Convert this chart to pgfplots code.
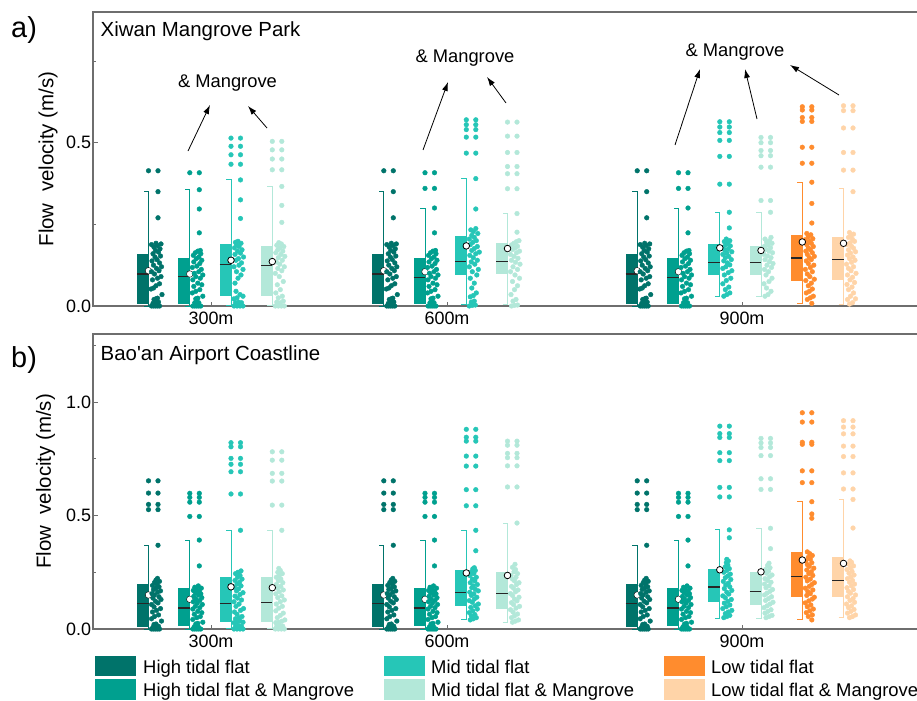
\documentclass[border=0pt]{standalone}
\usepackage{pgfplots}
\usepackage{pgfplotstable}
\pgfplotsset{compat=1.18}
\usetikzlibrary{arrows.meta}
\usepackage{fontspec}
\setmainfont{Liberation Sans}

\definecolor{cH}{HTML}{00736A}
\definecolor{cHM}{HTML}{00A08F}
\definecolor{cM}{HTML}{26C6B7}
\definecolor{cMM}{HTML}{B3E8D9}
\definecolor{cL}{HTML}{FF8C2E}
\definecolor{cLM}{HTML}{FFD4A8}
\definecolor{axgray}{HTML}{6E6E6E}

% ---------- panel a data (dx = offset from whisker, y = velocity) ----------
\pgfplotstableread{
dx y
0 0.414
9.5 0.414
9.5 0.350
9.5 0.270
3 0.000
5 0.000
7 0.000
9 0.000
11 0.000
4.5 0.008
6.5 0.010
8.5 0.008
10 0.012
5.5 0.020
7.5 0.022
9 0.024
13.5 0.035
2.5 0.052
5 0.055
7.5 0.062
11 0.068
4 0.080
9 0.085
12.5 0.090
6 0.098
3 0.105
10.5 0.108
8 0.115
13 0.120
5 0.125
11 0.132
3.5 0.138
8.5 0.142
6.5 0.150
12 0.153
4.5 0.160
10 0.165
7 0.170
11.5 0.175
5.5 0.180
9 0.185
3 0.188
7.5 0.192
12.5 0.190
}\aHi
\pgfplotstableread{
dx y
0 0.408
9.5 0.408
9.5 0.356
9.5 0.297
9.5 0.224
3 0
5 0
7 0
9 0
11 0
5 0.01
7 0.012
9 0.01
6 0.022
8 0.024
13 0.03
2.5 0.04
6 0.045
10 0.05
4 0.06
12 0.065
8 0.07
3 0.08
10.5 0.085
6 0.09
13 0.095
4.5 0.1
9 0.105
11.5 0.112
2.5 0.118
7 0.122
10 0.13
4 0.135
12 0.14
6.5 0.145
9 0.15
3.5 0.155
11 0.16
5.5 0.163
8 0.168
10.5 0.17
}\aHiMa
\pgfplotstableread{
dx y
0 0.408
9.5 0.408
0 0.360
9.5 0.360
9.5 0.300
9.5 0.224
3 0
5 0
7 0
9 0
11 0
5 0.01
7 0.012
9 0.01
6 0.022
8 0.024
13 0.03
2.5 0.04
6 0.045
10 0.05
4 0.06
12 0.065
8 0.07
3 0.08
10.5 0.085
6 0.09
13 0.095
4.5 0.1
9 0.105
11.5 0.112
2.5 0.118
7 0.122
10 0.13
4 0.135
12 0.14
6.5 0.145
9 0.15
3.5 0.155
11 0.16
5.5 0.163
8 0.168
10.5 0.17
}\aHiMb
\pgfplotstableread{
dx y
0 0.514
9.5 0.514
0 0.489
9.5 0.489
0 0.463
9.5 0.463
0 0.434
9.5 0.434
9.5 0.386
9.5 0.325
9.5 0.268
3 0.000
6 0.000
9 0.000
12 0.000
4.5 0.01
7.5 0.012
10.5 0.01
3 0.022
6 0.025
12 0.03
9 0.035
5 0.045
4 0.07
7 0.085
10 0.095
5.5 0.105
12 0.112
3 0.12
8 0.125
10.5 0.132
5 0.14
7.5 0.145
12.5 0.15
4 0.158
9.5 0.162
6.5 0.168
11 0.172
3.5 0.178
8 0.182
5.5 0.188
10 0.192
7 0.198
4.5 0.195
}\aMida
\pgfplotstableread{
dx y
0 0.504
9.5 0.504
0 0.478
9.5 0.478
0 0.450
9.5 0.450
0 0.417
9.5 0.417
9.5 0.366
9.5 0.308
9.5 0.256
3 0
6 0
9 0
12 0
4.5 0.012
8 0.01
11 0.015
6 0.025
10 0.03
3.5 0.04
8 0.05
5 0.065
11 0.075
7 0.09
3 0.1
9.5 0.108
5.5 0.115
12 0.12
7.5 0.128
4 0.135
10 0.14
6 0.148
12.5 0.152
8.5 0.158
3.5 0.163
10.5 0.168
5.5 0.172
7.5 0.178
11.5 0.182
4.5 0.186
9 0.19
6.5 0.194
}\aMidMa
\pgfplotstableread{
dx y
0 0.570
9.5 0.570
0 0.555
9.5 0.555
0 0.540
9.5 0.540
0 0.517
9.5 0.517
0 0.468
9.5 0.468
9.5 0.390
9.5 0.297
3 0
6 0.002
9 0.003
5 0.012
8 0.015
4 0.028
7 0.032
10 0.04
5.5 0.055
8 0.07
4 0.085
10.5 0.095
6 0.105
12 0.112
3 0.12
8.5 0.128
5 0.135
11 0.14
7 0.148
3.5 0.155
9.5 0.16
13 0.165
5.5 0.17
8 0.176
11 0.182
4 0.188
6.5 0.195
10 0.2
3 0.205
8 0.21
5.5 0.216
11.5 0.222
7 0.228
4.5 0.233
9.5 0.237
}\aMidb
\pgfplotstableread{
dx y
0 0.563
9.5 0.563
0 0.520
9.5 0.520
0 0.470
9.5 0.470
0 0.427
9.5 0.427
0 0.405
9.5 0.405
0 0.359
9.5 0.359
9.5 0.283
9.5 0.226
4 0
7 0.002
10 0.003
5.5 0.015
8.5 0.02
3.5 0.035
7 0.05
10 0.062
5 0.075
12 0.085
7.5 0.095
3 0.105
10 0.112
5.5 0.12
12.5 0.128
8 0.134
4 0.14
10.5 0.146
6.5 0.152
3 0.158
9 0.163
12 0.168
5 0.173
7.5 0.178
10 0.183
4 0.187
6.5 0.192
9 0.197
11.5 0.2
}\aMidMb
\pgfplotstableread{
dx y
0 0.564
9.5 0.564
0 0.548
9.5 0.548
0 0.531
9.5 0.531
0 0.507
9.5 0.507
0 0.458
9.5 0.458
0 0.373
9.5 0.373
9.5 0.287
9.5 0.239
4 0.03
7 0.035
10 0.04
5.5 0.05
9 0.058
3 0.068
6.5 0.078
11 0.085
4.5 0.095
8.5 0.102
12 0.108
3 0.115
6 0.12
10 0.126
7.5 0.132
4 0.138
11.5 0.142
5.5 0.148
9 0.152
3 0.158
7 0.162
12 0.166
5 0.171
8.5 0.175
3.5 0.18
10.5 0.184
6 0.188
8 0.193
4.5 0.197
10 0.2
6.5 0.205
}\aMidc
\pgfplotstableread{
dx y
0 0.516
9.5 0.516
0 0.500
9.5 0.500
0 0.476
9.5 0.476
0 0.460
9.5 0.460
0 0.425
9.5 0.425
0 0.323
9.5 0.323
9.5 0.287
4 0.03
7 0.035
10 0.045
5.5 0.055
3 0.068
8 0.075
11 0.085
5 0.095
7.5 0.105
3.5 0.112
10.5 0.118
6 0.125
12 0.13
8.5 0.136
4 0.142
10 0.148
6.5 0.153
3 0.158
11.5 0.163
8 0.168
5 0.173
9.5 0.178
3.5 0.183
7 0.187
11 0.192
5.5 0.196
8.5 0.2
4 0.205
10 0.21
}\aMidMc
\pgfplotstableread{
dx y
0 0.610
9.5 0.610
0 0.600
9.5 0.600
0 0.577
9.5 0.577
0 0.565
9.5 0.565
0 0.486
9.5 0.486
0 0.437
9.5 0.437
9.5 0.379
9.5 0.314
9.5 0.254
9.5 0.008
5 0.02
8 0.025
11 0.03
4 0.04
7 0.045
10 0.052
6 0.062
9 0.07
3.5 0.078
12 0.082
7.5 0.09
5 0.098
10 0.105
3 0.112
8 0.118
11.5 0.125
6 0.13
4 0.138
9 0.142
7 0.148
12 0.152
5 0.158
10 0.163
3.5 0.168
8 0.172
6 0.178
11 0.182
4.5 0.188
9 0.192
7 0.198
3 0.203
10.5 0.206
6 0.212
8.5 0.218
4.5 0.222
}\aLowc
\pgfplotstableread{
dx y
0 0.613
9.5 0.613
0 0.598
9.5 0.598
0 0.545
9.5 0.545
0 0.470
9.5 0.470
0 0.416
9.5 0.416
9.5 0.350
6 0.006
9 0.01
4 0.02
12 0.022
7 0.03
10 0.04
5 0.05
8.5 0.058
3.5 0.066
11 0.072
6.5 0.08
9 0.088
4 0.095
12.5 0.1
7.5 0.108
5 0.115
10 0.12
3 0.128
8 0.134
11.5 0.14
6 0.145
9.5 0.15
4 0.156
7 0.162
12 0.166
5 0.172
10 0.177
8 0.183
3.5 0.188
6.5 0.193
11 0.198
9 0.204
5 0.21
7.5 0.215
10 0.22
6 0.225
}\aLowMc

% ---------- panel b data ----------
\pgfplotstableread{
dx y
0 0.653
9.5 0.653
0 0.599
9.5 0.599
0 0.549
9.5 0.549
0 0.526
9.5 0.526
9.5 0.369
3 0
5 0
7 0
9 0
11 0
4.5 0.008
6.5 0.01
8.5 0.01
10 0.012
5.5 0.02
7.5 0.022
13 0.035
3 0.045
6 0.055
10 0.062
4 0.075
8 0.082
12 0.09
5.5 0.098
3 0.108
9.5 0.115
7 0.122
12.5 0.13
4.5 0.136
10.5 0.142
6 0.15
3.5 0.156
9 0.162
12 0.168
5 0.174
7.5 0.18
10.5 0.186
4 0.192
8.5 0.198
6 0.205
11 0.21
7.5 0.216
9 0.223
}\bHi
\pgfplotstableread{
dx y
0 0.598
9.5 0.598
0 0.580
9.5 0.580
0 0.559
9.5 0.559
0 0.496
9.5 0.496
9.5 0.392
9.5 0.278
3 0
5 0
7 0
9 0
11 0
4.5 0.01
6.5 0.012
8.5 0.01
6 0.022
8 0.025
13 0.03
3 0.042
7 0.05
10.5 0.055
4.5 0.065
12 0.072
8 0.078
3 0.088
10 0.094
5.5 0.1
12.5 0.108
7.5 0.114
3.5 0.12
10 0.126
6 0.132
12 0.138
4 0.144
8.5 0.15
11 0.155
5.5 0.16
9.5 0.166
3.5 0.17
7 0.175
11.5 0.18
5 0.184
8.5 0.19
}\bHiM
\pgfplotstableread{
dx y
0 0.821
9.5 0.821
0 0.803
9.5 0.803
0 0.752
9.5 0.752
0 0.726
9.5 0.726
0 0.693
9.5 0.693
0 0.595
9.5 0.595
9.5 0.435
3 0
6 0
9 0
12 0
4.5 0.012
7.5 0.015
10.5 0.012
3 0.028
6 0.032
9 0.035
12 0.03
4.5 0.045
8 0.05
11 0.055
6 0.065
3.5 0.075
9.5 0.082
12.5 0.09
5 0.1
8 0.11
3 0.12
10.5 0.128
6.5 0.136
4 0.145
9 0.152
12 0.16
5.5 0.168
7.5 0.176
3.5 0.184
10 0.19
6 0.198
8.5 0.206
4 0.214
11 0.22
6.5 0.228
9 0.236
4.5 0.244
7 0.25
10 0.256
}\bMida
\pgfplotstableread{
dx y
0 0.781
9.5 0.781
0 0.744
9.5 0.744
0 0.686
9.5 0.686
0 0.652
9.5 0.652
0 0.546
9.5 0.546
9.5 0.435
3 0
6 0
9 0
12 0
4.5 0.012
7.5 0.014
10.5 0.012
3.5 0.028
6.5 0.03
9.5 0.034
12.5 0.04
5 0.05
8 0.06
11 0.07
3.5 0.08
6.5 0.092
10 0.1
4 0.11
8 0.12
12 0.128
5.5 0.138
9.5 0.146
3.5 0.155
7 0.164
11 0.172
5 0.18
8.5 0.188
4 0.196
10.5 0.204
6 0.212
8.5 0.22
4 0.228
7 0.236
10 0.244
5.5 0.25
8 0.258
6.5 0.267
}\bMidMa
\pgfplotstableread{
dx y
0 0.880
9.5 0.880
0 0.845
9.5 0.845
0 0.828
9.5 0.828
0 0.762
9.5 0.762
0 0.718
9.5 0.718
0 0.614
9.5 0.614
0 0.543
9.5 0.543
9.5 0.435
9.5 0.345
4 0.04
7 0.045
10 0.05
5 0.058
8.5 0.064
3 0.072
6.5 0.08
11 0.088
4.5 0.095
9 0.102
12 0.11
6 0.118
3 0.125
8 0.132
10.5 0.14
5 0.148
7.5 0.155
3.5 0.162
12 0.168
9 0.175
5.5 0.182
7 0.19
11 0.196
4 0.204
8.5 0.212
6 0.22
10 0.228
3.5 0.236
7.5 0.244
5 0.252
9 0.258
6.5 0.265
8 0.27
}\bMidb
\pgfplotstableread{
dx y
0 0.828
9.5 0.828
0 0.810
9.5 0.810
0 0.774
9.5 0.774
0 0.755
9.5 0.755
0 0.719
9.5 0.719
0 0.626
9.5 0.626
9.5 0.467
5 0.03
8 0.035
11 0.04
4 0.05
7 0.058
10 0.066
5.5 0.075
3 0.085
8.5 0.092
12 0.1
6 0.108
4 0.116
9.5 0.124
7 0.132
11.5 0.14
5 0.148
3 0.156
8 0.164
10.5 0.172
6 0.18
4 0.188
9 0.196
11.5 0.204
7 0.212
5 0.22
8.5 0.228
3.5 0.236
10 0.244
6.5 0.252
8 0.262
5 0.272
7.5 0.285
}\bMidMb
\pgfplotstableread{
dx y
0 0.894
9.5 0.894
0 0.861
9.5 0.861
0 0.844
9.5 0.844
0 0.777
9.5 0.777
0 0.742
9.5 0.742
0 0.624
9.5 0.624
0 0.582
9.5 0.582
9.5 0.437
9.5 0.402
4 0.05
7 0.055
10 0.06
5.5 0.068
8.5 0.075
12 0.082
3 0.09
6.5 0.098
10 0.106
4.5 0.114
8 0.122
11.5 0.13
5.5 0.138
3 0.146
9 0.154
7 0.162
12 0.17
4.5 0.178
10 0.186
6 0.194
8.5 0.202
3.5 0.21
11 0.218
5.5 0.226
8 0.234
10.5 0.242
4 0.25
7 0.258
9.5 0.266
5.5 0.274
8 0.282
6.5 0.292
8.5 0.3
7 0.307
}\bMidc
\pgfplotstableread{
dx y
0 0.840
9.5 0.840
0 0.820
9.5 0.820
0 0.800
9.5 0.800
0 0.764
9.5 0.764
0 0.662
9.5 0.662
0 0.615
9.5 0.615
9.5 0.444
9.5 0.354
5 0.05
8 0.055
11 0.06
4 0.07
7 0.078
10 0.085
3 0.094
6 0.102
9 0.11
12 0.118
4.5 0.126
7.5 0.134
10.5 0.142
3.5 0.15
6 0.158
9 0.166
11.5 0.174
5 0.182
8 0.19
3.5 0.198
10 0.206
6.5 0.214
4 0.222
8.5 0.23
11 0.238
5.5 0.246
7.5 0.254
4.5 0.262
9 0.27
6.5 0.28
8 0.29
}\bMidMc
\pgfplotstableread{
dx y
0 0.953
9.5 0.953
0 0.912
9.5 0.912
0 0.823
9.5 0.823
0 0.814
9.5 0.814
0 0.697
9.5 0.697
0 0.645
9.5 0.645
9.5 0.561
9.5 0.507
9.5 0.488
9.5 0.04
6 0.055
10 0.062
4 0.072
7.5 0.08
11 0.088
5 0.098
8.5 0.106
3 0.115
6.5 0.124
10 0.132
12 0.14
4.5 0.148
8 0.156
5.5 0.165
10.5 0.172
3 0.18
7 0.188
9.5 0.196
12 0.204
5 0.212
8 0.22
3.5 0.228
10.5 0.236
6.5 0.244
9 0.252
4.5 0.26
11.5 0.268
7 0.276
5 0.284
9.5 0.292
3.5 0.3
8 0.308
6 0.316
10 0.324
7.5 0.332
5 0.34
}\bLowc
\pgfplotstableread{
dx y
0 0.918
9.5 0.918
0 0.890
9.5 0.890
0 0.860
9.5 0.860
0 0.806
9.5 0.806
0 0.760
9.5 0.760
0 0.688
9.5 0.688
0 0.617
9.5 0.617
9.5 0.571
9.5 0.445
6 0.05
9 0.055
12 0.062
4 0.07
7.5 0.078
10.5 0.086
5 0.094
8 0.102
3 0.11
11 0.118
6.5 0.126
9.5 0.134
4 0.142
12 0.15
7 0.158
5 0.166
10 0.174
3.5 0.182
8 0.19
11 0.198
6 0.206
9 0.214
4 0.222
7.5 0.23
10.5 0.238
5.5 0.246
8.5 0.254
3.5 0.262
7 0.27
10 0.278
5 0.286
8 0.294
6.5 0.3
}\bLowMc

% #1 left, #2 cap start, #3 right (whisker), #4 q1, #5 median, #6 q3, #7 whisker low, #8 whisker high, #9 colour
\newcommand{\halfbox}[9]{%
  \addplot[#9, line width=1bp, forget plot] coordinates {(#2,#7) (#3,#7) (#3,#8) (#2,#8)};
  \addplot[draw=none, fill=#9, forget plot] coordinates {(#1,#4) (#3,#4) (#3,#6) (#1,#6)};
  \addplot[black!85, line width=1.2bp, forget plot] coordinates {(#1,#5) (#3,#5)};
}
\newcommand{\meanpt}[2]{%
  \addplot[only marks, mark=*, mark size=3.3pt, mark options={fill=white, draw=black, line width=0.8bp}, forget plot] coordinates {(#1,#2)};}
\newcommand{\meanhole}[2]{%
  \addplot[only marks, mark=*, mark size=3.3pt, mark options={fill=white, draw=none}, forget plot] coordinates {(#1,#2)};}
\newcommand{\pts}[3]{%
  \addplot[only marks, mark=*, mark size=2.35pt, color=#2, mark options={draw=none, fill=#2}, forget plot] table[x expr=\thisrow{dx}+#1, y=y] {#3};}

\pgfplotsset{
  panel/.style={
    scale only axis, anchor=south west,
    width=826bp, xmin=93, xmax=919,
    ymin=0,
    axis line style={draw=axgray, line width=1.3bp},
    tick style={draw=axgray, line width=1bp},
    tick align=inside, major tick length=4.5bp, minor tick length=2.5bp,
    xtick pos=left, ytick pos=left,
    xtick={211,447,742}, xticklabels={300m,600m,900m},
    xticklabel style={yshift=-2.5bp},
    yticklabel style={xshift=1.5bp},
    tick label style={font=\fontsize{18}{21}\selectfont},
    /pgf/number format/fixed, /pgf/number format/fixed zerofill,
    /pgf/number format/precision=1,
    /pgf/number format/assume math mode=true,
    clip=false,
  }
}

\begin{document}
\begin{tikzpicture}
\useasboundingbox (0,0) rectangle (917bp,-701bp);

% ================= panel a =================
\begin{axis}[panel, at={(93bp,-306bp)}, height=294bp, ymax=0.9,
  ytick={0,0.5}, minor ytick={0.25,0.75}]
% 300m
\halfbox{137}{143.5}{148.5}{0.006}{0.098}{0.159}{0}{0.352}{cH}
\meanhole{148.5}{0.108}
\pts{148.5}{cH}{\aHi}
\halfbox{178.3}{184.8}{189.8}{0.006}{0.090}{0.148}{0}{0.356}{cHM}
\meanhole{189.8}{0.098}
\pts{189.8}{cHM}{\aHiMa}
\halfbox{219.5}{226}{231}{0.030}{0.126}{0.189}{0.003}{0.386}{cM}
\pts{231}{cM}{\aMida}
\meanpt{231}{0.140}
\halfbox{260.8}{267.3}{272.3}{0.030}{0.124}{0.184}{0.003}{0.366}{cMM}
\pts{272.3}{cMM}{\aMidMa}
\meanpt{272.3}{0.136}
% 600m
\halfbox{372.3}{378.8}{383.8}{0.006}{0.098}{0.159}{0}{0.352}{cH}
\meanhole{383.8}{0.108}
\pts{383.8}{cH}{\aHi}
\halfbox{413.5}{420}{425}{0.006}{0.088}{0.148}{0.008}{0.300}{cHM}
\meanhole{425}{0.105}
\pts{425}{cHM}{\aHiMb}
\halfbox{454.8}{461.3}{466.3}{0.095}{0.137}{0.214}{0.006}{0.390}{cM}
\pts{466.3}{cM}{\aMidb}
\meanpt{466.3}{0.184}
\halfbox{496}{502.5}{507.5}{0.098}{0.137}{0.194}{0.006}{0.283}{cMM}
\pts{507.5}{cMM}{\aMidMb}
\meanpt{507.5}{0.176}
% 900m
\halfbox{625.7}{632.2}{637.2}{0.006}{0.098}{0.159}{0}{0.352}{cH}
\meanhole{637.2}{0.108}
\pts{637.2}{cH}{\aHi}
\halfbox{667}{673.5}{678.5}{0.006}{0.088}{0.148}{0.008}{0.300}{cHM}
\meanhole{678.5}{0.105}
\pts{678.5}{cHM}{\aHiMb}
\halfbox{708.3}{714.8}{719.8}{0.094}{0.134}{0.190}{0.030}{0.287}{cM}
\pts{719.8}{cM}{\aMidc}
\meanpt{719.8}{0.178}
\halfbox{749.5}{756}{761}{0.094}{0.134}{0.184}{0.030}{0.287}{cMM}
\pts{761}{cMM}{\aMidMc}
\meanpt{761}{0.170}
\halfbox{790.8}{797.3}{802.3}{0.076}{0.147}{0.216}{0.008}{0.379}{cL}
\pts{802.3}{cL}{\aLowc}
\meanpt{802.3}{0.196}
\halfbox{832}{838.5}{843.5}{0.081}{0.142}{0.212}{0.006}{0.359}{cLM}
\pts{843.5}{cLM}{\aLowMc}
\meanpt{843.5}{0.192}
\end{axis}

% ================= panel b =================
\begin{axis}[panel, at={(93bp,-629bp)}, height=295bp, ymax=1.3,
  ytick={0,0.5,1.0}, minor ytick={0.25,0.75,1.25}]
% 300m
\halfbox{137}{143.5}{148.5}{0.010}{0.113}{0.197}{0}{0.369}{cH}
\meanhole{148.5}{0.150}
\pts{148.5}{cH}{\bHi}
\halfbox{178.3}{184.8}{189.8}{0.012}{0.093}{0.179}{0}{0.392}{cHM}
\meanhole{189.8}{0.131}
\pts{189.8}{cHM}{\bHiM}
\halfbox{219.5}{226}{231}{0.032}{0.113}{0.230}{0.003}{0.435}{cM}
\pts{231}{cM}{\bMida}
\meanpt{231}{0.186}
\halfbox{260.8}{267.3}{272.3}{0.029}{0.116}{0.230}{0.003}{0.435}{cMM}
\pts{272.3}{cMM}{\bMidMa}
\meanpt{272.3}{0.182}
% 600m
\halfbox{372.3}{378.8}{383.8}{0.010}{0.113}{0.197}{0}{0.369}{cH}
\meanhole{383.8}{0.150}
\pts{383.8}{cH}{\bHi}
\halfbox{413.5}{420}{425}{0.012}{0.093}{0.179}{0}{0.392}{cHM}
\meanhole{425}{0.131}
\pts{425}{cHM}{\bHiM}
\halfbox{454.8}{461.3}{466.3}{0.101}{0.160}{0.261}{0.040}{0.435}{cM}
\pts{466.3}{cM}{\bMidb}
\meanpt{466.3}{0.247}
\halfbox{496}{502.5}{507.5}{0.090}{0.158}{0.250}{0.030}{0.467}{cMM}
\pts{507.5}{cMM}{\bMidMb}
\meanpt{507.5}{0.236}
% 900m
\halfbox{625.7}{632.2}{637.2}{0.010}{0.113}{0.197}{0}{0.369}{cH}
\meanhole{637.2}{0.150}
\pts{637.2}{cH}{\bHi}
\halfbox{667}{673.5}{678.5}{0.012}{0.093}{0.179}{0}{0.392}{cHM}
\meanhole{678.5}{0.131}
\pts{678.5}{cHM}{\bHiM}
\halfbox{708.3}{714.8}{719.8}{0.119}{0.185}{0.266}{0.048}{0.437}{cM}
\pts{719.8}{cM}{\bMidc}
\meanpt{719.8}{0.261}
\halfbox{749.5}{756}{761}{0.107}{0.167}{0.252}{0.048}{0.442}{cMM}
\pts{761}{cMM}{\bMidMc}
\meanpt{761}{0.252}
\halfbox{790.8}{797.3}{802.3}{0.140}{0.233}{0.339}{0.044}{0.561}{cL}
\pts{802.3}{cL}{\bLowc}
\meanpt{802.3}{0.304}
\halfbox{832}{838.5}{843.5}{0.140}{0.213}{0.316}{0.051}{0.571}{cLM}
\pts{843.5}{cLM}{\bLowMc}
\meanpt{843.5}{0.289}
\end{axis}

% ---------- texts ----------
\node[anchor=base west, inner sep=0pt, font=\fontsize{29}{32}\selectfont] at (11bp,-37.5bp) {a)};
\node[anchor=base west, inner sep=0pt, font=\fontsize{29}{32}\selectfont] at (11bp,-367bp) {b)};
\node[anchor=base west, inner sep=0pt, font=\fontsize{20.5}{24}\selectfont] at (100.5bp,-36.7bp) {Xiwan Mangrove Park};
\node[anchor=base west, inner sep=0pt, font=\fontsize{20.5}{24}\selectfont] at (100.5bp,-360.7bp) {Bao\textquotesingle an Airport Coastline};
\node[rotate=90, inner sep=0pt, font=\fontsize{20.5}{24}\selectfont] at (48bp,-159bp) {Flow\ \ velocity (m/s)};
\node[rotate=90, inner sep=0pt, font=\fontsize{20.5}{24}\selectfont] at (45.5bp,-481.5bp) {Flow\ \ velocity (m/s)};

% ---------- annotations ----------
\begin{scope}[font=\fontsize{18.4}{22}\selectfont]
\node[anchor=base, inner sep=0pt] at (227.5bp,-87bp) {\& Mangrove};
\node[anchor=base, inner sep=0pt] at (465bp,-62.5bp) {\& Mangrove};
\node[anchor=base, inner sep=0pt] at (735bp,-56bp) {\& Mangrove};
\end{scope}
\begin{scope}[line width=0.8bp, -{Latex[length=9bp,width=6bp]}]
\draw (188bp,-151bp) -- (210bp,-105bp);
\draw (267bp,-128bp) -- (248bp,-106bp);
\draw (423bp,-150bp) -- (448bp,-82bp);
\draw (506bp,-103bp) -- (487bp,-77bp);
\draw (675bp,-145bp) -- (700bp,-69bp);
\draw (757bp,-119bp) -- (745bp,-69bp);
\draw (839bp,-95bp) -- (790bp,-65bp);
\end{scope}

% ---------- legend ----------
\begin{scope}[font=\fontsize{18.5}{22}\selectfont]
\fill[cH]  (95bp,-655.7bp) rectangle (136bp,-676bp);
\fill[cHM] (95bp,-678.7bp) rectangle (136bp,-700bp);
\fill[cM]  (384bp,-655.7bp) rectangle (425bp,-676bp);
\fill[cMM] (384bp,-678.7bp) rectangle (425bp,-700bp);
\fill[cL]  (664bp,-655.7bp) rectangle (705bp,-676bp);
\fill[cLM] (664bp,-678.7bp) rectangle (705bp,-700bp);
\node[anchor=base west, inner sep=0pt] at (143bp,-673bp) {High tidal flat};
\node[anchor=base west, inner sep=0pt] at (143bp,-696bp) {High tidal flat \& Mangrove};
\node[anchor=base west, inner sep=0pt] at (431bp,-673bp) {Mid tidal flat};
\node[anchor=base west, inner sep=0pt] at (431bp,-696bp) {Mid tidal flat \& Mangrove};
\node[anchor=base west, inner sep=0pt] at (711bp,-673bp) {Low tidal flat};
\node[anchor=base west, inner sep=0pt] at (711bp,-696bp) {Low tidal flat \& Mangrove};
\end{scope}
\end{tikzpicture}
\end{document}
